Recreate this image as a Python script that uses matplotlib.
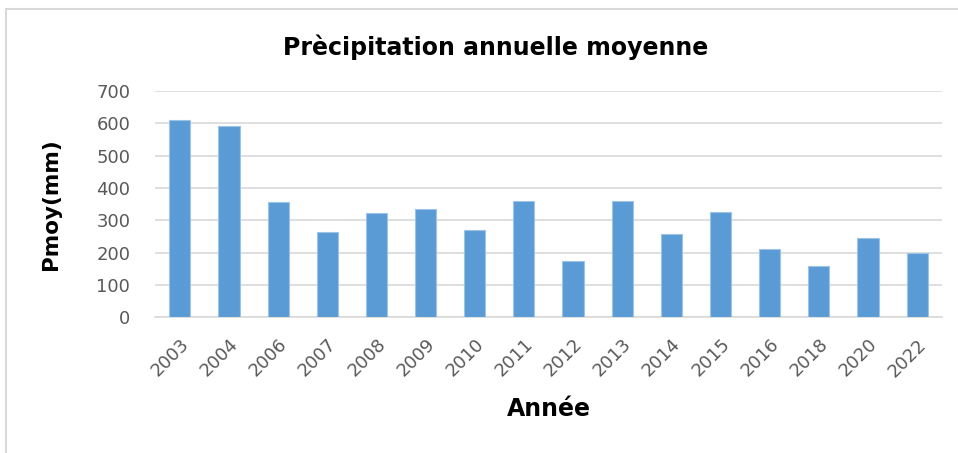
import numpy as np
import matplotlib.pyplot as plt
from matplotlib.patches import Rectangle

# data
years = ["2003", "2004", "2006", "2007", "2008", "2009", "2010", "2011",
         "2012", "2013", "2014", "2015", "2016", "2018", "2020", "2022"]
pmoy = [611, 591, 356, 263, 322, 336, 269, 360,
        173, 360, 257, 325, 210, 160, 246, 198]

plt.rcParams['font.family'] = ['DejaVu Sans']

fig = plt.figure(figsize=(9.58, 4.53), dpi=100)
ax = fig.add_axes([0.162, 0.2996, 0.821, 0.4995])

x = np.arange(len(years))
ax.bar(x, pmoy, width=0.43, color="#5B9BD5", edgecolor="#9DC3E6",
       linewidth=0.8, zorder=3)

ax.set_xlim(-0.5, len(years) - 0.5)
ax.set_ylim(0, 700)
ax.set_yticks(np.arange(0, 701, 100))
ax.yaxis.grid(True, color="#D9D9D9", linewidth=1.2, zorder=0)
ax.set_xticks(x)
ax.set_xticklabels(years, rotation=45, ha="right", rotation_mode="anchor")
ax.tick_params(axis="both", length=0, labelsize=13, colors="#595959")
ax.tick_params(axis="x", pad=13)
ax.tick_params(axis="y", pad=18)

for s in ["top", "right", "left"]:
    ax.spines[s].set_visible(False)
ax.spines["bottom"].set_color("#D9D9D9")
ax.spines["bottom"].set_linewidth(1.2)

ax.set_ylabel("Pmoy(mm)", fontsize=15.5, fontweight="bold", labelpad=25)
ax.set_xlabel("Année", fontsize=17, fontweight="bold", labelpad=12)
fig.text(0.517, 0.896, "Prècipitation annuelle moyenne", ha="center",
         va="center", fontsize=17, fontweight="bold")

# light frame around the chart area
fig.patches.append(Rectangle((0.006, -0.01), 1.2, 0.99, transform=fig.transFigure,
                             fill=False, edgecolor="#D9D9D9", linewidth=1.5))

fig.savefig("out.png", dpi=100)
